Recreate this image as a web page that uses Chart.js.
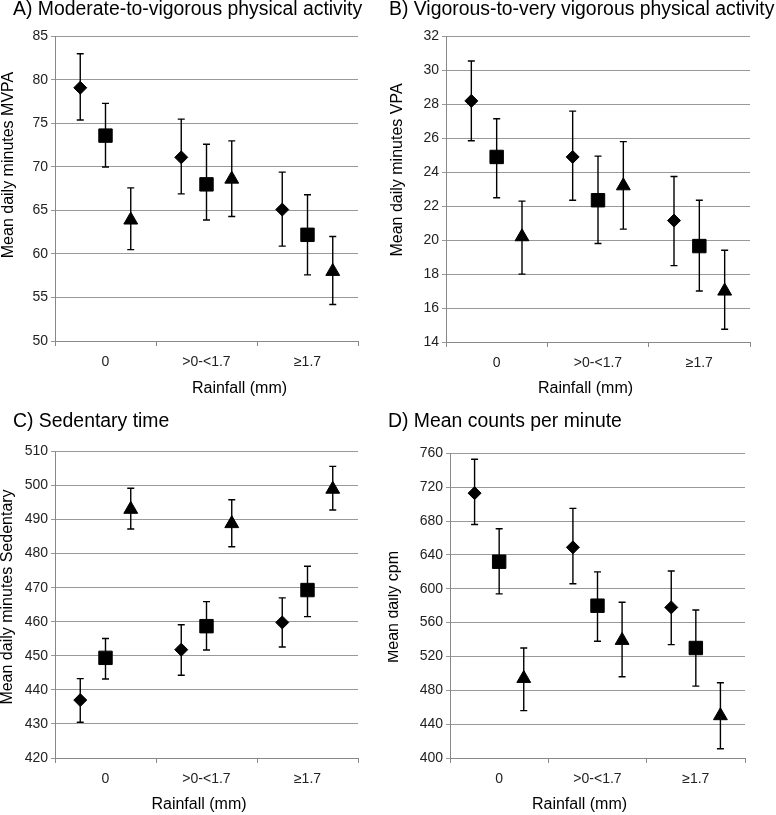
<!DOCTYPE html>
<html>
<head>
<meta charset="utf-8">
<script src="https://cdn.jsdelivr.net/npm/chart.js@4.4.0/dist/chart.umd.min.js"></script>
<style>
  body { margin: 0; background: #fff; }
  #wrap { position: relative; width: 776px; height: 815px; }
  canvas { position: absolute; }
</style>
</head>
<body>
<div id="wrap">
  <canvas id="chartA" width="388" height="400" style="left:0;top:0"></canvas>
  <canvas id="chartB" width="388" height="400" style="left:388px;top:0"></canvas>
  <canvas id="chartC" width="388" height="415" style="left:0;top:400px"></canvas>
  <canvas id="chartD" width="388" height="415" style="left:388px;top:400px"></canvas>
</div>
<script>
// rainfall categories (x axis)
const categories = ['0', '>0-<1.7', '≥1.7'];
// three series, drawn as diamond / square / triangle
const seriesNames = ['Series 1', 'Series 2', 'Series 3'];

// rows = series, columns = rainfall category
// A) MVPA
const mvpaMean = [[79.1, 71.1, 65.1], [73.6, 68.0, 62.2], [63.9, 68.6, 58.0]];
const mvpaLow  = [[75.4, 66.9, 60.9], [70.0, 63.9, 57.6], [60.5, 64.3, 54.2]];
const mvpaHigh = [[83.0, 75.5, 69.4], [77.3, 72.6, 66.8], [67.6, 73.0, 62.0]];
const mvpaTicks = [50, 85, 5];

// B) VPA
const vpaMean = [[28.2, 24.9, 21.15], [24.9, 22.35, 19.65], [20.2, 23.2, 17.0]];
const vpaLow  = [[25.85, 22.35, 18.5], [22.5, 19.8, 17.0], [18.0, 20.65, 14.75]];
const vpaHigh = [[30.55, 27.6, 23.75], [27.15, 24.95, 22.35], [22.3, 25.8, 19.4]];
const vpaTicks = [14, 32, 2];

// C) Sedentary
const sedMean = [[437.0, 451.8, 459.8], [449.4, 458.7, 469.3], [493.0, 488.8, 498.9]];
const sedLow  = [[430.5, 444.3, 452.6], [443.2, 451.7, 461.5], [487.2, 482.0, 492.8]];
const sedHigh = [[443.3, 459.1, 467.0], [455.1, 465.9, 476.3], [499.2, 495.8, 505.6]];
const sedTicks = [420, 510, 10];

// D) counts per minute
const cpmMean = [[713, 649, 578], [632, 580, 530], [494, 539, 450]];
const cpmLow  = [[676, 606, 534], [594, 538, 485], [456, 496, 411]];
const cpmHigh = [[753, 695, 621], [671, 620, 575], [530, 584, 489]];
const cpmTicks = [400, 760, 40];

Chart.defaults.font.family = '"Liberation Sans", Arial, Helvetica, sans-serif';
Chart.defaults.color = '#000';

const shapes = ['rectRot', 'rect', 'triangle'];
const radii = [6.5, 9.5, 8];
const offsets = [-0.25, 0, 0.25];

// error bars behind the markers
const errorBars = {
  id: 'errorBars',
  beforeDatasetsDraw(chart) {
    const { ctx, scales: { x, y } } = chart;
    ctx.save();
    ctx.strokeStyle = '#000';
    ctx.lineWidth = 1.4;
    chart.data.datasets.forEach(ds => {
      ds.data.forEach(p => {
        const px = x.getPixelForValue(p.x);
        const top = y.getPixelForValue(p.hi);
        const bot = y.getPixelForValue(p.lo);
        ctx.beginPath();
        ctx.moveTo(px, top); ctx.lineTo(px, bot);
        ctx.moveTo(px - 3.5, top); ctx.lineTo(px + 3.5, top);
        ctx.moveTo(px - 3.5, bot); ctx.lineTo(px + 3.5, bot);
        ctx.stroke();
      });
    });
    ctx.restore();
  }
};

// axis titles (placed like the original, not centred on the plot)
const axisTitles = {
  id: 'axisTitles',
  afterDraw(chart, args, o) {
    const { ctx, chartArea } = chart;
    ctx.save();
    ctx.fillStyle = '#000';
    ctx.font = '16px ' + Chart.defaults.font.family;
    ctx.textAlign = 'center';
    ctx.textBaseline = 'middle';
    ctx.fillText(o.xText, o.xPos, chartArea.bottom + o.xGap);
    ctx.translate(o.yPos, o.yMid);
    ctx.rotate(-Math.PI / 2);
    ctx.fillText(o.yText, 0, 0);
    ctx.restore();
  }
};

function drawPanel(id, p) {
  const datasets = seriesNames.map((name, s) => ({
    label: name,
    data: categories.map((c, i) => ({
      x: i + 0.5 + offsets[s], y: p.mean[s][i], lo: p.low[s][i], hi: p.high[s][i]
    })),
    pointStyle: shapes[s],
    pointRadius: radii[s],
    pointBackgroundColor: '#000',
    pointBorderColor: '#000',
    pointBorderWidth: 1
  }));

  new Chart(document.getElementById(id), {
    type: 'scatter',
    data: { datasets },
    plugins: [errorBars, axisTitles],
    options: {
      responsive: false,
      animation: false,
      layout: { padding: { left: p.padLeft, right: 0, top: 0, bottom: 0 } },
      plugins: {
        legend: { display: false },
        tooltip: { enabled: false },
        title: {
          display: true, text: p.title, align: 'start', color: '#000',
          font: { size: 19.4, weight: 'normal', lineHeight: 1 },
          padding: { top: p.titleTop, bottom: p.titleBottom }
        },
        axisTitles: {
          xText: 'Rainfall (mm)', xPos: p.xPos, xGap: p.xGap,
          yText: p.yLabel, yPos: p.yPos, yMid: p.yMid
        }
      },
      scales: {
        x: {
          type: 'linear', min: 0, max: 3,
          ticks: {
            stepSize: 0.5, autoSkip: false, maxRotation: 0, padding: 8,
            color: '#222', font: { size: 14 },
            callback: v => (v % 1 === 0.5 ? categories[v - 0.5] : '')
          },
          grid: {
            drawOnChartArea: false, drawTicks: true, tickLength: 5,
            color: c => (c.tick && c.tick.value % 1 === 0 ? '#888' : 'rgba(0,0,0,0)')
          },
          border: { color: '#888' },
          afterFit(scale) { scale.height = p.xHeight; }
        },
        y: {
          min: p.ticks[0], max: p.ticks[1],
          ticks: { stepSize: p.ticks[2], padding: 3, color: '#222', font: { size: 14 } },
          grid: { color: '#999', tickLength: 4 },
          border: { color: '#888' },
          afterFit(scale) { scale.width = p.yWidth; }
        },
        // empty right-hand spacer so the title may run past the plot
        spacer: {
          type: 'linear', position: 'right',
          ticks: { display: false },
          grid: { display: false },
          border: { display: false },
          afterFit(scale) { scale.width = p.padRight; }
        }
      }
    }
  });
}

drawPanel('chartA', {
  title: 'A) Moderate-to-vigorous physical activity', yLabel: 'Mean daily minutes MVPA',
  mean: mvpaMean, low: mvpaLow, high: mvpaHigh, ticks: mvpaTicks,
  padLeft: 13, padRight: 30, titleTop: 0, titleBottom: 17, yWidth: 42, xHeight: 59,
  xPos: 239.5, xGap: 48, yPos: 9, yMid: 165
});
drawPanel('chartB', {
  title: 'B) Vigorous-to-very vigorous physical activity', yLabel: 'Mean daily minutes VPA',
  mean: vpaMean, low: vpaLow, high: vpaHigh, ticks: vpaTicks,
  padLeft: 1, padRight: 26, titleTop: 0, titleBottom: 17, yWidth: 57, xHeight: 58,
  xPos: 197.5, xGap: 47, yPos: 10, yMid: 170
});
drawPanel('chartC', {
  title: 'C) Sedentary time', yLabel: 'Mean daily minutes Sedentary',
  mean: sedMean, low: sedLow, high: sedHigh, ticks: sedTicks,
  padLeft: 13, padRight: 30, titleTop: 12, titleBottom: 20, yWidth: 42, xHeight: 57,
  xPos: 199, xGap: 47, yPos: 8, yMid: 197
});
drawPanel('chartD', {
  title: 'D) Mean counts per minute', yLabel: 'Mean daily cpm',
  mean: cpmMean, low: cpmLow, high: cpmHigh, ticks: cpmTicks,
  padLeft: 0, padRight: 31, titleTop: 12, titleBottom: 22, yWidth: 62, xHeight: 57,
  xPos: 191.5, xGap: 47, yPos: 6, yMid: 207
});
</script>
</body>
</html>
